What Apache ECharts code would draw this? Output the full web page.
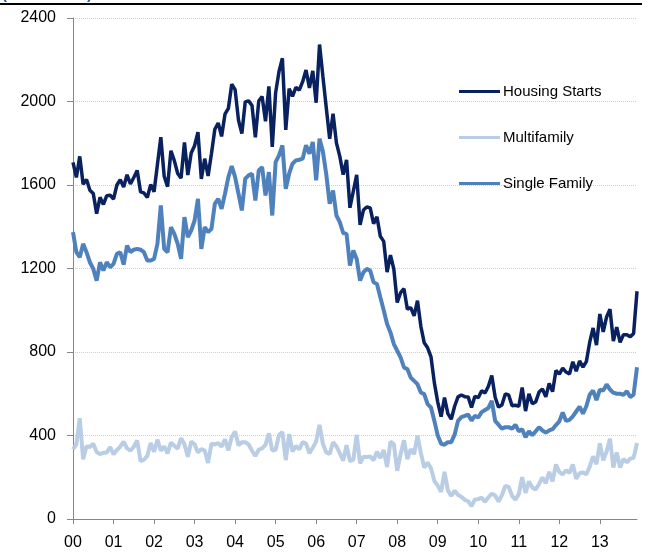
<!DOCTYPE html>
<html>
<head>
<meta charset="utf-8">
<script src="https://cdn.jsdelivr.net/npm/echarts@6/dist/echarts.min.js"></script>
<style>
html,body{margin:0;padding:0;background:#fff;}
#chart{width:654px;height:553px;}
</style>
</head>
<body>
<div id="chart"></div>
<script>
// Monthly, Dec 1999 .. Nov 2013 (thousands of units, SAAR)
const yearLabels = ['00','01','02','03','04','05','06','07','08','09','10','11','12','13'];
const seriesNames = ['Housing Starts','Multifamily','Single Family'];

const housingStarts = [
1708,1636,1737,1604,1626,1575,1559,1463,1541,1507,1549,1551,1532,
1600,1625,1590,1649,1605,1636,1670,1567,1562,1540,1602,1568,
1698,1829,1642,1592,1764,1717,1655,1633,1804,1648,1753,1788,
1853,1629,1726,1643,1751,1867,1897,1833,1939,1967,2083,2057,
1911,1846,1998,2003,1981,1828,2002,2024,1905,2072,1782,2042,
2144,2207,1864,2061,2025,2068,2054,2095,2151,2065,2147,1994,
2273,2119,1969,1821,1942,1802,1737,1650,1720,1491,1570,1649,
1409,1480,1495,1490,1415,1448,1354,1330,1183,1264,1197,1037,
1084,1103,1005,1013,973,1046,923,844,820,777,652,560,
490,582,505,478,540,585,594,586,585,534,588,581,
614,604,636,687,583,536,546,599,594,543,545,539,
630,517,600,553,561,608,623,585,650,610,711,694,
723,704,695,753,708,757,728,754,847,915,833,982,
896,968,1005,852,919,846,883,883,873,889,1091
];

const multifamily = [
334,358,483,286,348,345,361,321,311,317,319,345,310,
330,347,371,339,327,346,376,277,284,302,364,322,
380,327,348,314,366,351,337,387,358,298,371,358,
319,335,328,269,361,357,363,347,381,329,393,419,
353,368,368,357,327,302,332,338,355,410,328,332,
402,417,282,407,323,350,333,369,361,315,341,372,
451,359,319,311,368,348,315,280,354,277,284,403,
267,298,297,300,281,322,292,330,249,370,359,231,
310,377,287,335,311,400,317,246,270,243,182,160,
130,226,137,110,136,115,106,92,85,62,94,95,
102,82,104,121,113,84,114,159,154,111,93,119,
200,125,180,151,141,168,199,171,226,180,261,226,
213,234,220,261,193,219,223,214,251,300,263,362,
281,323,385,247,319,246,288,271,289,293,364
];

const singleFamily = [
1374,1278,1254,1318,1278,1230,1198,1142,1230,1190,1230,1206,1222,
1270,1278,1219,1310,1278,1290,1294,1290,1278,1238,1238,1246,
1318,1502,1294,1278,1398,1366,1318,1246,1446,1350,1382,1430,
1534,1294,1398,1374,1390,1510,1534,1486,1558,1638,1690,1638,
1558,1478,1630,1646,1654,1526,1670,1686,1550,1662,1454,1710,
1742,1790,1582,1654,1702,1718,1721,1726,1790,1750,1806,1622,
1822,1760,1650,1510,1574,1454,1422,1370,1366,1214,1286,1246,
1142,1182,1198,1190,1134,1126,1062,1000,934,894,838,806,
774,726,718,678,662,646,606,598,550,534,470,400,
360,356,368,368,404,470,488,494,500,472,494,486,
512,522,532,566,470,452,432,440,440,432,452,420,
430,392,420,402,420,440,424,414,424,430,450,468,
510,470,475,492,515,538,505,540,596,615,570,620,
615,645,620,605,600,600,595,612,584,596,727
];

// Category labels (months), Dec 1999 .. Nov 2013
const monthNames = ['Jan','Feb','Mar','Apr','May','Jun','Jul','Aug','Sep','Oct','Nov','Dec'];
const categories = [];
for (let k = 0; k < housingStarts.length; k++) {
  const m = (k + 11) % 12;
  const y = 1999 + Math.floor((k + 11) / 12);
  categories.push(monthNames[m] + '-' + String(y).slice(2));
}

const FONT = '"Liberation Sans", Arial, sans-serif';
const chart = echarts.init(document.getElementById('chart'), null, {renderer: 'canvas'});
chart.setOption({
  animation: false,
  backgroundColor: '#ffffff',
  grid: {left: 73, right: 17, top: 18, bottom: 34, containLabel: false},
  legend: {
    orient: 'vertical',
    left: 459,
    top: 84,
    padding: 0,
    itemWidth: 41,
    itemHeight: 3,
    itemGap: 31,
    icon: 'rect',
    textStyle: {fontFamily: FONT, fontSize: 15, color: '#000', padding: [0,0,0,-2]},
    data: seriesNames
  },
  xAxis: {
    type: 'category',
    data: categories,
    boundaryGap: false,
    axisLine: {lineStyle: {color: '#868686', width: 1}},
    axisTick: {interval: 11, length: 5, lineStyle: {color: '#868686'}},
    axisLabel: {
      interval: 11,
      margin: 16,
      fontFamily: FONT, fontSize: 16, color: '#000',
      formatter: function (v, idx) { return yearLabels[Math.round(idx / 12)]; }
    },
    splitLine: {show: false}
  },
  yAxis: {
    type: 'value',
    min: 0, max: 2400, interval: 400,
    axisLine: {show: true, lineStyle: {color: '#868686', width: 1}},
    axisTick: {show: true, length: 6, lineStyle: {color: '#868686'}},
    axisLabel: {margin: 17, fontFamily: FONT, fontSize: 16, color: '#000',
      formatter: function (v) { return String(v); }},
    splitLine: {show: true, lineStyle: {color: '#d0d0d0', type: 'dotted', width: 1}}
  },
  series: [
    {name: seriesNames[0], type: 'line', data: housingStarts, showSymbol: false,
     lineStyle: {color: '#0a215f', width: 3.5}, itemStyle: {color: '#0a215f'}},
    {name: seriesNames[1], type: 'line', data: multifamily, showSymbol: false,
     lineStyle: {color: '#b9cde5', width: 4}, itemStyle: {color: '#b9cde5'}},
    {name: seriesNames[2], type: 'line', data: singleFamily, showSymbol: false,
     lineStyle: {color: '#4f81bd', width: 4}, itemStyle: {color: '#4f81bd'}}
  ],
  graphic: [
    {type: 'text', left: 2, top: -13, silent: true,
     style: {text: '(Thousands)', fill: '#2458a8', font: 'bold 15px ' + FONT}},
    {type: 'rect', shape: {x: 0, y: 3, width: 642, height: 2}, silent: true,
     style: {fill: '#000'}}
  ]
});
</script>
</body>
</html>
